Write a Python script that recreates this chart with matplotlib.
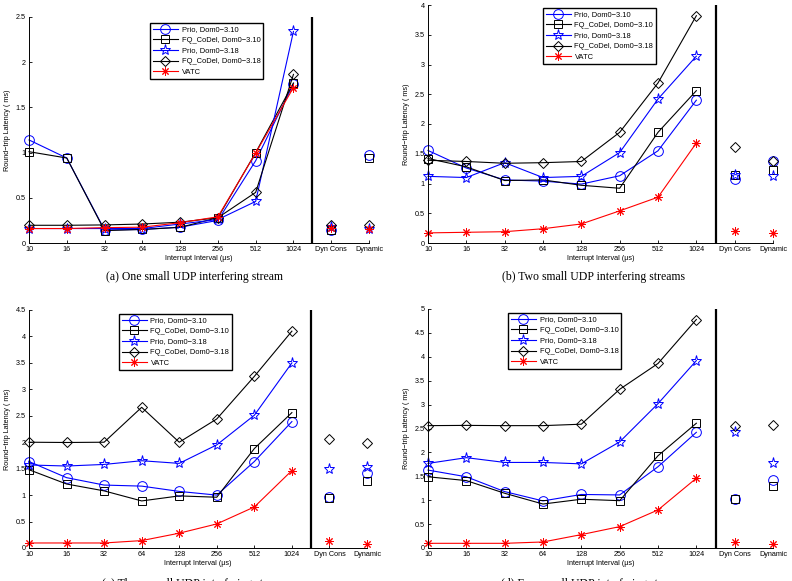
#!/usr/bin/env python

import numpy as np
import matplotlib.pyplot as plt
import matplotlib as mpl
mpl.rcParams['font.family'] = ['Liberation Sans', 'DejaVu Sans']
mpl.rcParams['font.size'] = 5.2
mpl.rcParams['xtick.direction'] = 'in'
mpl.rcParams['ytick.direction'] = 'in'
mpl.rcParams['axes.linewidth'] = 0.7

x_labels = ['10', '16', '32', '64', '128', '256', '512', '1024', 'Dyn Cons', 'Dynamic']
series_names = ['Prio, Dom0\u22123.10', 'FQ_CoDel, Dom0\u22123.10', 'Prio, Dom0\u22123.18',
                'FQ_CoDel, Dom0\u22123.18', 'VATC']
captions = ['(a) One small UDP interfering stream', '(b) Two small UDP interfering streams',
            '(c) Three small UDP interfering streams', '(d) Four small UDP interfering streams']
y_max = [2.5, 4.0, 4.5, 5.0]

# one UDP stream
prio310_a = [1.14, 0.94, 0.145, 0.15, 0.175, 0.25, 0.91, 1.76, 0.147, 0.97]
fq310_a   = [1.01, 0.94, 0.137, 0.15, 0.173, 0.28, 1.00, 1.77, 0.14, 0.94]
prio318_a = [0.16, 0.16, 0.16, 0.16, 0.21, 0.26, 0.46, 2.34, 0.175, 0.16]
fq318_a   = [0.196, 0.196, 0.20, 0.21, 0.23, 0.28, 0.56, 1.865, 0.195, 0.195]
vatc_a    = [0.16, 0.16, 0.17, 0.175, 0.225, 0.29, 0.995, 1.72, 0.17, 0.16]

# two UDP streams
prio310_b = [1.555, 1.26, 1.06, 1.04, 0.99, 1.13, 1.55, 2.40, 1.08, 1.37]
fq310_b   = [1.42, 1.28, 1.05, 1.06, 0.97, 0.92, 1.86, 2.56, 1.15, 1.23]
prio318_b = [1.12, 1.10, 1.35, 1.10, 1.12, 1.52, 2.42, 3.14, 1.14, 1.13]
fq318_b   = [1.39, 1.37, 1.34, 1.35, 1.37, 1.86, 2.69, 3.82, 1.61, 1.37]
vatc_b    = [0.17, 0.18, 0.19, 0.24, 0.32, 0.54, 0.77, 1.68, 0.21, 0.17]

# three UDP streams
prio310_c = [1.635, 1.33, 1.19, 1.17, 1.07, 1.00, 1.635, 2.39, 0.966, 1.41]
fq310_c   = [1.48, 1.21, 1.08, 0.89, 0.985, 0.96, 1.88, 2.56, 0.953, 1.27]
prio318_c = [1.57, 1.55, 1.58, 1.65, 1.60, 1.95, 2.51, 3.50, 1.49, 1.53]
fq318_c   = [2.00, 1.995, 2.00, 2.66, 2.00, 2.44, 3.245, 4.10, 2.06, 1.99]
vatc_c    = [0.095, 0.095, 0.095, 0.14, 0.28, 0.455, 0.776, 1.465, 0.13, 0.08]

# four UDP streams
prio310_d = [1.63, 1.49, 1.18, 0.985, 1.12, 1.11, 1.70, 2.42, 1.02, 1.42]
fq310_d   = [1.49, 1.41, 1.145, 0.92, 1.02, 0.99, 1.93, 2.61, 1.02, 1.29]
prio318_d = [1.77, 1.89, 1.79, 1.79, 1.76, 2.22, 3.02, 3.92, 2.42, 1.77]
fq318_d   = [2.56, 2.565, 2.56, 2.56, 2.59, 3.32, 3.86, 4.78, 2.55, 2.58]
vatc_d    = [0.098, 0.098, 0.098, 0.126, 0.28, 0.447, 0.796, 1.46, 0.126, 0.09]

panels = [
    [prio310_a, fq310_a, prio318_a, fq318_a, vatc_a],
    [prio310_b, fq310_b, prio318_b, fq318_b, vatc_b],
    [prio310_c, fq310_c, prio318_c, fq318_c, vatc_c],
    [prio310_d, fq310_d, prio318_d, fq318_d, vatc_d],
]

styles = [
    dict(color='b', marker='o', ms=7),
    dict(color='k', marker='s', ms=6),
    dict(color='b', marker='*', ms=8),
    dict(color='k', marker='D', ms=5.5),
    dict(color='r', marker=(8, 2, 0), ms=6),
]

W, H = 792., 581.
# axes boxes in pixels: left, right, bottom, top
boxes = [(29, 369, 243, 17), (428, 773, 243, 5), (29, 367, 548, 310), (428, 773, 548, 309)]
legend_pos = [(150, 23), (543, 8), (119, 314), (508, 313)]
caption_pos = [(195, 277, 'center'), (594, 277, 'center'), (196, 577.5, 'top'), (593, 577.5, 'top')]

fig = plt.figure(figsize=(W / 100, H / 100), dpi=100)
xs = np.arange(1, len(x_labels) + 1)

for i, data in enumerate(panels):
    l, r, b, t = boxes[i]
    ax = fig.add_axes([l / W, 1 - b / H, (r - l) / W, (b - t) / H])
    for vals, st, name in zip(data, styles, series_names):
        ax.plot(xs[:8], vals[:8], color=st['color'], marker=st['marker'], ms=st['ms'],
                mfc='none', mew=0.7, lw=0.8, clip_on=False, label=name)
        ax.plot(xs[8:], vals[8:], ls='none', color=st['color'], marker=st['marker'],
                ms=st['ms'], mfc='none', mew=0.7, clip_on=False)
    ax.axvline(8.5, color='k', lw=1.6)
    ax.set_xlim(1, 10)
    ax.set_ylim(0, y_max[i])
    yt = np.arange(0, y_max[i] + 0.01, 0.5)
    ax.set_yticks(yt)
    ax.set_yticklabels(['%g' % v for v in yt])
    ax.set_xticks(xs)
    ax.set_xticklabels(x_labels)
    ax.tick_params(length=2.5, width=0.6, pad=2.5, labelsize=5.2)
    ax.spines['top'].set_visible(False)
    ax.spines['right'].set_visible(False)
    ax.set_xlabel('Interrupt Interval (\u00b5s)', fontsize=5.2, labelpad=1)
    ax.set_ylabel('Round\u2212trip Latency ( ms)', fontsize=5.2, labelpad=3)
    lx, ly = legend_pos[i]
    leg = ax.legend(loc='upper left', bbox_to_anchor=(lx / W, 1 - ly / H),
                    bbox_transform=fig.transFigure, fontsize=5.4, fancybox=False,
                    edgecolor='k', framealpha=1, borderpad=0.4, labelspacing=0.45,
                    handlelength=3.3, handletextpad=0.5, borderaxespad=0)
    leg.get_frame().set_linewidth(1.0)
    cx, cy, va = caption_pos[i]
    fig.text(cx / W, 1 - cy / H, captions[i], ha='center', va=va,
             family='Liberation Serif', fontsize=8.5)

fig.savefig('out.png', dpi=100)
